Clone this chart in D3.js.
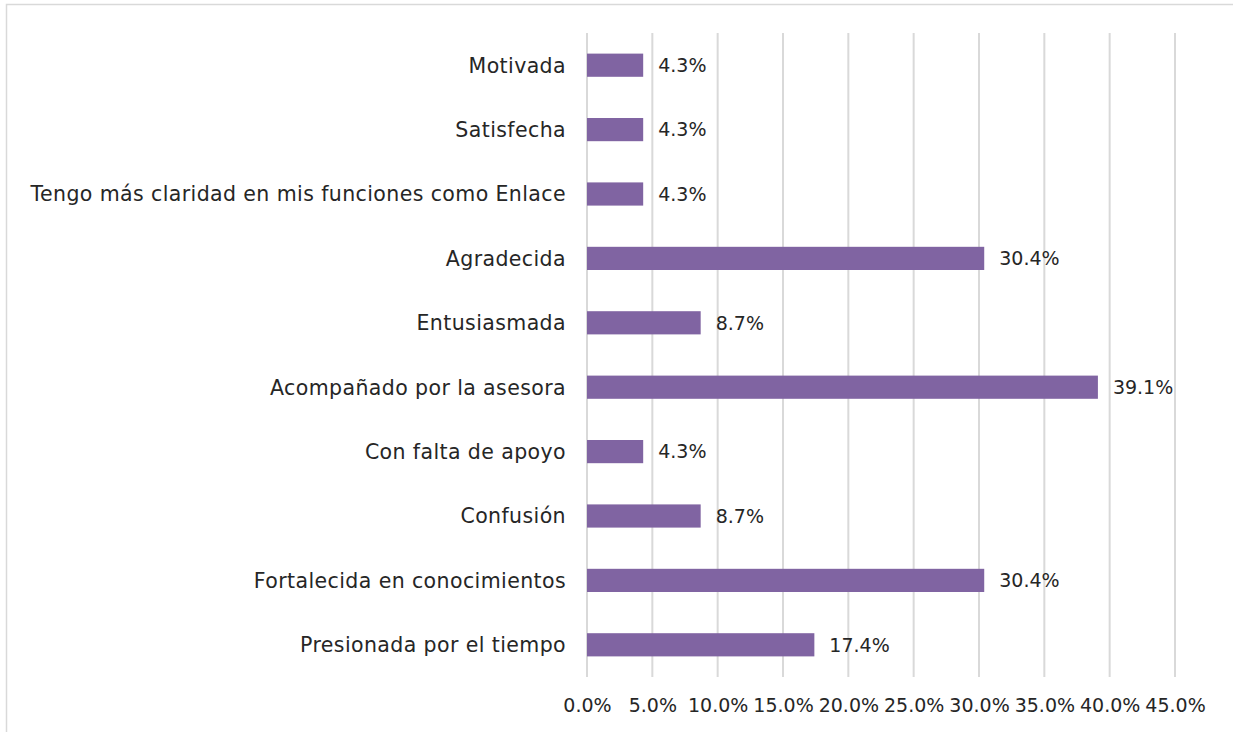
<!DOCTYPE html>
<html>
<head>
<meta charset="utf-8">
<script src="https://cdn.jsdelivr.net/npm/d3@7"></script>
<style>
  body { margin: 0; background: #fff; }
  text { font-family: "DejaVu Sans", sans-serif; fill: #262626; }
</style>
</head>
<body>
<div id="chart"></div>
<script>
var categories = [
  "Motivada",
  "Satisfecha",
  "Tengo más claridad en mis funciones como Enlace",
  "Agradecida",
  "Entusiasmada",
  "Acompañado por la asesora",
  "Con falta de apoyo",
  "Confusión",
  "Fortalecida en conocimientos",
  "Presionada por el tiempo"
];
var values = [4.3, 4.3, 4.3, 30.4, 8.7, 39.1, 4.3, 8.7, 30.4, 17.4];
var ticks = [0, 5, 10, 15, 20, 25, 30, 35, 40, 45];

var width = 1233, height = 732;
var margin = {left: 587, right: 58, top: 33, bottom: 55};
var font = "DejaVu Sans, sans-serif";

var svg = d3.select("#chart")
  .append("svg")
  .attr("width", width)
  .attr("height", height);

// outer chart border
svg.append("rect")
  .attr("x", 6.5).attr("y", 4.5)
  .attr("width", 1240).attr("height", 740)
  .attr("fill", "none")
  .attr("stroke", "#d9d9d9")
  .attr("stroke-width", 1.5);

var x = d3.scaleLinear()
  .domain([0, 45])
  .range([margin.left, width - margin.right]);

var y = d3.scaleBand()
  .domain(categories)
  .range([margin.top, height - margin.bottom])
  .paddingInner(0.64)
  .paddingOuter(0.32);

// gridlines
svg.append("g")
  .selectAll("line")
  .data(ticks)
  .join("line")
  .attr("x1", function(d){ return x(d); })
  .attr("x2", function(d){ return x(d); })
  .attr("y1", margin.top)
  .attr("y2", height - margin.bottom)
  .attr("stroke", "#d9d9d9")
  .attr("stroke-width", 2);

// x axis labels
var xAxis = d3.axisBottom(x)
  .tickValues(ticks)
  .tickSize(0)
  .tickPadding(0)
  .tickFormat(function(d){ return d.toFixed(1) + "%"; });

var gx = svg.append("g")
  .attr("transform", "translate(0," + (height - margin.bottom + 21) + ")")
  .call(xAxis);
gx.select(".domain").remove();
gx.selectAll("text")
  .attr("font-size", 19)
  .attr("font-family", font)
  .attr("fill", "#262626");

// bars
svg.append("g")
  .selectAll("rect")
  .data(values)
  .join("rect")
  .attr("x", x(0))
  .attr("y", function(d, i){ return y(categories[i]); })
  .attr("width", function(d){ return x(d) - x(0); })
  .attr("height", y.bandwidth())
  .attr("fill", "#8064a2");

// value labels
svg.append("g")
  .selectAll("text")
  .data(values)
  .join("text")
  .attr("x", function(d){ return x(d) + 15; })
  .attr("y", function(d, i){ return y(categories[i]) + y.bandwidth() / 2; })
  .attr("dy", "0.36em")
  .attr("font-size", 19)
  .text(function(d){ return d.toFixed(1) + "%"; });

// category labels
var yAxis = d3.axisLeft(y).tickSize(0).tickPadding(21);
var gy = svg.append("g")
  .attr("transform", "translate(" + x(0) + ",0)")
  .call(yAxis);
gy.select(".domain").remove();
gy.selectAll("text")
  .attr("font-size", 20.5)
  .attr("letter-spacing", 0.4)
  .attr("dy", "0.36em")
  .attr("font-family", font)
  .attr("fill", "#262626");
</script>
</body>
</html>
